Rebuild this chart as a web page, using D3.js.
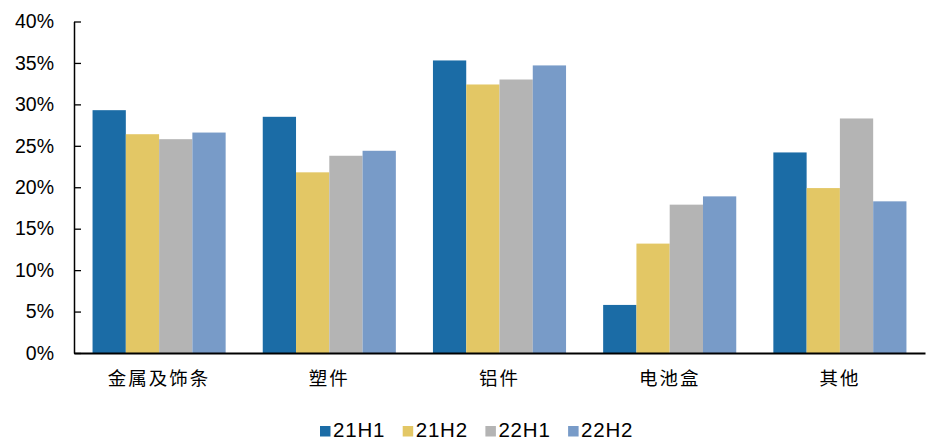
<!DOCTYPE html>
<html><head><meta charset="utf-8">
<script src="https://cdn.jsdelivr.net/npm/d3@7"></script>
<style>body{margin:0;background:#fff}svg{display:block}</style>
</head><body><svg id="c" width="927" height="442"></svg>
<script>
const categories = ["金属及饰条","塑件","铝件","电池盒","其他"];
const seriesNames = ["21H1","21H2","22H1","22H2"];
const v21H1 = [29.3, 28.5, 35.3, 5.8, 24.2];
const v21H2 = [26.4, 21.8, 32.4, 13.2, 19.9];
const v22H1 = [25.8, 23.8, 33.0, 17.9, 28.3];
const v22H2 = [26.6, 24.4, 34.7, 18.9, 18.3];
const yTicks = [0,5,10,15,20,25,30,35,40];
const colors = ["#1B6CA6","#E3C765","#B4B4B4","#789BC8"];
const seriesVals = [v21H1, v21H2, v22H1, v22H2];

const svg = d3.select("#c");
const L = 74, R = 925, T = 21.5, B = 353;
const x = d3.scaleBand().domain(categories).range([L, R]).paddingInner(0.218).paddingOuter(0.109);
const xs = d3.scaleBand().domain(seriesNames).range([0, x.bandwidth()]);
const y = d3.scaleLinear().domain([0, 40]).range([B, T]);

// bars
categories.forEach((c, ci) => {
  seriesNames.forEach((s, si) => {
    const v = seriesVals[si][ci];
    svg.append("rect")
      .attr("x", x(c) + xs(s))
      .attr("y", y(v))
      .attr("width", xs.bandwidth())
      .attr("height", y(0) - y(v))
      .attr("fill", colors[si]);
  });
});

// y axis
const yAxis = d3.axisLeft(y).tickValues(yTicks).tickFormat(d => d + "%").tickSizeInner(-7).tickSizeOuter(0).tickPadding(20);
const ga = svg.append("g").attr("transform", `translate(${L},0)`).call(yAxis);
ga.select(".domain").attr("stroke", "#000").attr("stroke-width", 1.5);
ga.selectAll(".tick line").attr("stroke", "#000").attr("stroke-width", 1.3);
ga.selectAll(".tick text").attr("font-family", "Liberation Sans, Arial, sans-serif").attr("font-size", 19.5).attr("fill", "#000");

// x axis
const xAxis = d3.axisBottom(x).tickSize(0).tickPadding(19);
const gx = svg.append("g").attr("transform", `translate(0,${B})`).call(xAxis);
gx.select(".domain").attr("stroke", "#000").attr("stroke-width", 2);
gx.selectAll(".tick text").attr("font-family", "Noto Sans CJK SC, sans-serif").attr("font-size", 18.5)
  .attr("letter-spacing", "2px").attr("fill", "#000");

// legend
const lg = svg.append("g");
seriesNames.forEach((s, i) => {
  const lx = 320 + i * 82.7;
  lg.append("rect").attr("x", lx).attr("y", 426).attr("width", 10.5).attr("height", 10.5).attr("fill", colors[i]);
  lg.append("text").attr("x", lx + 13).attr("y", 437).text(s)
    .attr("font-family", "Liberation Sans, Arial, sans-serif").attr("font-size", 20.5)
    .attr("letter-spacing", "0.8px").attr("fill", "#000");
});
</script></body></html>
